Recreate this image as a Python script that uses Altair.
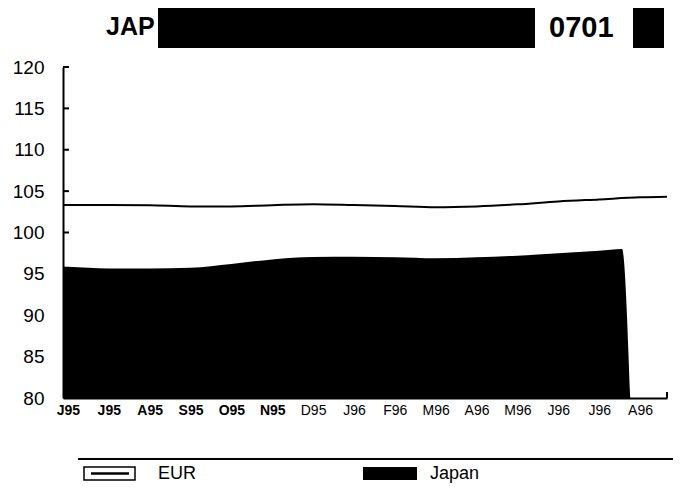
import altair as alt
import pandas as pd

FONT = "Liberation Sans"

month_labels = ["J95", "J95", "A95", "S95", "O95", "N95", "D95", "J96",
                "F96", "M96", "A96", "M96", "J96", "J96", "A96"]
y_ticks = [80, 85, 90, 95, 100, 105, 110, 115, 120]

# month positions (index into month_labels)
eur_pos = [-0.12, 0, 1, 2, 3, 4, 5, 6, 7, 8, 9, 10, 11, 12, 13, 14, 14.66]
eur_val = [103.32, 103.32, 103.32, 103.3, 103.15, 103.15, 103.3, 103.42,
           103.32, 103.2, 103.05, 103.15, 103.4, 103.75, 104.0, 104.25, 104.33]

jap_pos = [-0.12, 0, 1, 2, 3, 4, 5, 6, 7, 8, 9, 10, 11, 12, 13, 13.56, 13.76]
jap_val = [95.88, 95.85, 95.66, 95.66, 95.75, 96.2, 96.75, 97.05, 97.08,
           97.0, 96.88, 97.0, 97.2, 97.5, 97.8, 98.0, 80.0]

legend_names = ["EUR", "Japan"]
header_texts = ["JAP", "0701"]

x_domain = [-0.12, 14.66]
y_domain = [80, 120]

eur_df = pd.DataFrame({"t": eur_pos, "v": eur_val})
jap_df = pd.DataFrame({"t": jap_pos, "v": jap_val})
tick_df = pd.DataFrame({"v": y_ticks[1:]})
one = pd.DataFrame({"a": [0]})

label_arr = "[" + ",".join("'%s'" % s for s in month_labels) + "]"

xscale = alt.Scale(domain=x_domain, nice=False, zero=False)
yscale = alt.Scale(domain=y_domain, nice=False, zero=False)

xaxis = alt.Axis(
    values=list(range(len(month_labels))),
    labelExpr=label_arr + "[datum.value]",
    ticks=False, grid=False, title=None,
    domainColor="black", domainWidth=2,
    labelFont=FONT, labelFontSize=14, labelColor="black",
    labelFontWeight={"condition": {"test": "datum.value < 6", "value": "bold"}, "value": "normal"},
    labelPadding=5, labelOverlap=False,
)
yaxis = alt.Axis(
    values=y_ticks, ticks=False, grid=False, title=None,
    domainColor="black", domainWidth=2,
    labelFont=FONT, labelFontSize=19, labelColor="black",
    labelPadding=19,
)

area = alt.Chart(jap_df).mark_area(color="black", interpolate="monotone").encode(
    x=alt.X("t:Q", scale=xscale, axis=xaxis),
    y=alt.Y("v:Q", scale=yscale, axis=yaxis),
    y2=alt.datum(80),
)

line = alt.Chart(eur_df).mark_line(color="black", strokeWidth=2, interpolate="monotone").encode(
    x=alt.X("t:Q", scale=xscale),
    y=alt.Y("v:Q", scale=yscale),
)

yt = alt.Chart(tick_df).mark_rule(color="black", strokeWidth=2).encode(
    y=alt.Y("v:Q", scale=yscale),
    x=alt.value(0),
    x2=alt.value(6),
)

end_tick = alt.Chart(one).mark_rule(color="black", strokeWidth=2).encode(
    x=alt.datum(x_domain[1]),
    y=alt.value(331),
    y2=alt.value(325),
)

# header (redacted title bar)
bar1 = alt.Chart(one).mark_rect(color="black").encode(
    x=alt.value(95), x2=alt.value(472), y=alt.value(-59), y2=alt.value(-19))
bar2 = alt.Chart(one).mark_rect(color="black").encode(
    x=alt.value(570), x2=alt.value(601), y=alt.value(-59), y2=alt.value(-19))
h1 = alt.Chart(pd.DataFrame({"s": [header_texts[0]]})).mark_text(
    font=FONT, fontSize=25, fontWeight="bold", color="black",
    align="left", baseline="alphabetic").encode(
    x=alt.value(43), y=alt.value(-32), text="s:N")
h2 = alt.Chart(pd.DataFrame({"s": [header_texts[1]]})).mark_text(
    font=FONT, fontSize=29, fontWeight="bold", color="black",
    align="left", baseline="alphabetic").encode(
    x=alt.value(486), y=alt.value(-30), text="s:N")

# legend
leg_line = alt.Chart(one).mark_rule(color="black", strokeWidth=2).encode(
    x=alt.value(15), x2=alt.value(615), y=alt.value(392))
eur_box = alt.Chart(one).mark_rect(fill="white", stroke="black", strokeWidth=1.5).encode(
    x=alt.value(21), x2=alt.value(72), y=alt.value(400), y2=alt.value(413))
eur_inner = alt.Chart(one).mark_rule(color="black", strokeWidth=2.5).encode(
    x=alt.value(28), x2=alt.value(66), y=alt.value(406.5))
jap_box = alt.Chart(one).mark_rect(color="black").encode(
    x=alt.value(300), x2=alt.value(354), y=alt.value(400), y2=alt.value(413))
t1 = alt.Chart(pd.DataFrame({"s": [legend_names[0]]})).mark_text(
    font=FONT, fontSize=18, color="black", align="left", baseline="middle").encode(
    x=alt.value(95), y=alt.value(407), text="s:N")
t2 = alt.Chart(pd.DataFrame({"s": [legend_names[1]]})).mark_text(
    font=FONT, fontSize=18, color="black", align="left", baseline="middle").encode(
    x=alt.value(367), y=alt.value(407), text="s:N")

chart = alt.layer(
    area, line, yt, end_tick, bar1, bar2, h1, h2,
    leg_line, eur_box, eur_inner, jap_box, t1, t2,
).properties(
    width=604, height=331,
    autosize=alt.AutoSizeParams(type="none"),
    padding={"left": 55, "top": 59, "right": 6, "bottom": 92},
    background="white",
).configure_view(strokeWidth=0, stroke="transparent")

chart.save("out.html", embed_options={"renderer": "svg", "actions": False})
